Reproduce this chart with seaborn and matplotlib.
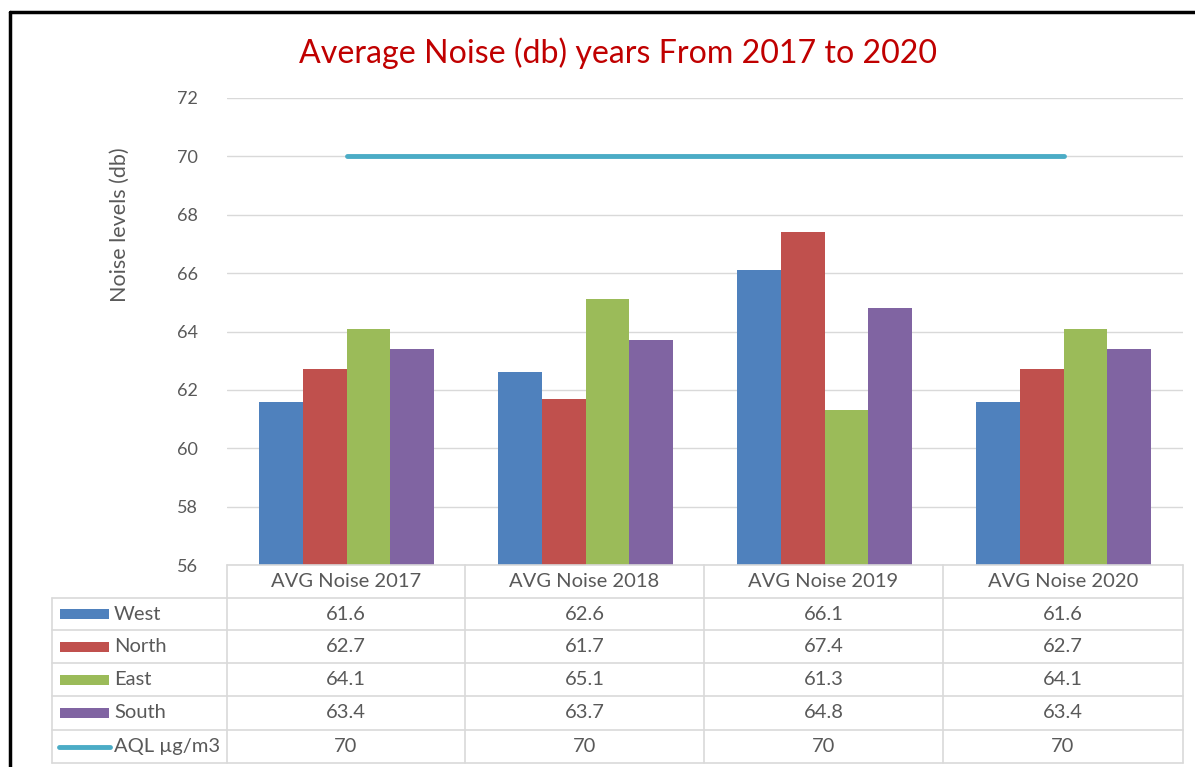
import numpy as np
import pandas as pd
import matplotlib
matplotlib.use("Agg")
import matplotlib.pyplot as plt
from matplotlib.patches import Rectangle
from matplotlib.lines import Line2D
import seaborn as sns

# data
years = ["AVG Noise 2017", "AVG Noise 2018", "AVG Noise 2019", "AVG Noise 2020"]
regions = ["West", "North", "East", "South"]
west = [61.6, 62.6, 66.1, 61.6]
north = [62.7, 61.7, 67.4, 62.7]
east = [64.1, 65.1, 61.3, 64.1]
south = [63.4, 63.7, 64.8, 63.4]
aql = [70, 70, 70, 70]
aql_label = "AQL µg/m3"

colors = ["#4F81BD", "#C0504D", "#9BBB59", "#8064A2"]
aql_color = "#4BACC6"
grey_txt = "#595959"
grid_c = "#D9D9D9"

sns.set_theme(style="white")
plt.rcParams["font.family"] = ["Lato", "DejaVu Sans"]

df = pd.DataFrame({
    "year": np.repeat(years, len(regions)),
    "region": regions * len(years),
    "value": np.array([west, north, east, south]).T.ravel(),
})

W, H = 1195, 767
fig = plt.figure(figsize=(W / 100, H / 100), dpi=100)

def fx(px):
    return px / W

def fy(py):
    return 1 - py / H

ax_l, ax_r, ax_t, ax_b = 227, 1183, 98, 565
ax = fig.add_axes([fx(ax_l), fy(ax_b), fx(ax_r - ax_l), fy(ax_t) - fy(ax_b)])

sns.barplot(data=df, x="year", y="value", hue="region", hue_order=regions,
            palette=colors, width=0.73, saturation=1, ax=ax, legend=False,
            linewidth=0)
sns.pointplot(x=years, y=aql, color=aql_color, markers="", linestyles="-",
              ax=ax, errorbar=None, linewidth=3.5)

ax.set_ylim(56, 72)
ax.set_yticks(np.arange(56, 73, 2))
ax.set_xlim(-0.5, len(years) - 0.5)
ax.yaxis.grid(True, color=grid_c, linewidth=1)
ax.set_axisbelow(True)
for s in ax.spines.values():
    s.set_visible(False)
ax.set_xticks([])
ax.set_xlabel("")
ax.set_ylabel("")
ax.tick_params(axis="y", length=0, pad=21, labelsize=13, labelcolor=grey_txt)

fig.text(fx(120), fy(225), "Noise levels (db)", rotation=90, ha="center",
         va="center", fontsize=15.5, color=grey_txt)
fig.text(fx(618), fy(53), "Average Noise (db) years From 2017 to 2020",
         ha="center", va="center", fontsize=23.1, color="#C00000")

# data table below the axis
col_x = [227, 465, 704, 943, 1183]
row_y = [565, 598, 630, 663, 696, 730, 763]
tbl_left = 52
tfs = 14.5

def hline(x0, x1, y, **kw):
    fig.add_artist(Line2D([fx(x0), fx(x1)], [fy(y), fy(y)], **kw))

def vline(x, y0, y1, **kw):
    fig.add_artist(Line2D([fx(x), fx(x)], [fy(y0), fy(y1)], **kw))

lk = dict(color=grid_c, linewidth=1.2)
hline(col_x[0], col_x[-1], row_y[0], **lk)
for y in row_y[1:]:
    hline(tbl_left, col_x[-1], y, **lk)
vline(tbl_left, row_y[1], row_y[-1], **lk)
for x in col_x:
    vline(x, row_y[0], row_y[-1], **lk)

for j, yr in enumerate(years):
    cx = (col_x[j] + col_x[j + 1]) / 2
    cy = (row_y[0] + row_y[1]) / 2
    fig.text(fx(cx), fy(cy), yr, ha="center", va="center", fontsize=tfs,
             color=grey_txt)

series = [west, north, east, south, aql]
labels = regions + [aql_label]
for i, (vals, lab) in enumerate(zip(series, labels)):
    cy = (row_y[i + 1] + row_y[i + 2]) / 2
    if i < 4:
        fig.add_artist(Rectangle((fx(60), fy(cy + 5)), fx(49), fy(cy - 5) - fy(cy + 5),
                                 facecolor=colors[i], edgecolor="none"))
    else:
        fig.add_artist(Line2D([fx(59), fx(110)], [fy(cy), fy(cy)],
                              color=aql_color, linewidth=3.5,
                              solid_capstyle="round"))
    fig.text(fx(114), fy(cy), lab, ha="left", va="center", fontsize=tfs,
             color=grey_txt)
    for j, v in enumerate(vals):
        cx = (col_x[j] + col_x[j + 1]) / 2
        fig.text(fx(cx), fy(cy), f"{v:g}", ha="center", va="center",
                 fontsize=tfs, color=grey_txt)

# black frame of the chart area
fig.add_artist(Line2D([fx(10), fx(10)], [fy(12), 0], color="black", linewidth=2.5))
fig.add_artist(Line2D([fx(10), 1], [fy(12), fy(12)], color="black", linewidth=2.5))

fig.savefig("out.png", dpi=100, facecolor="white")
